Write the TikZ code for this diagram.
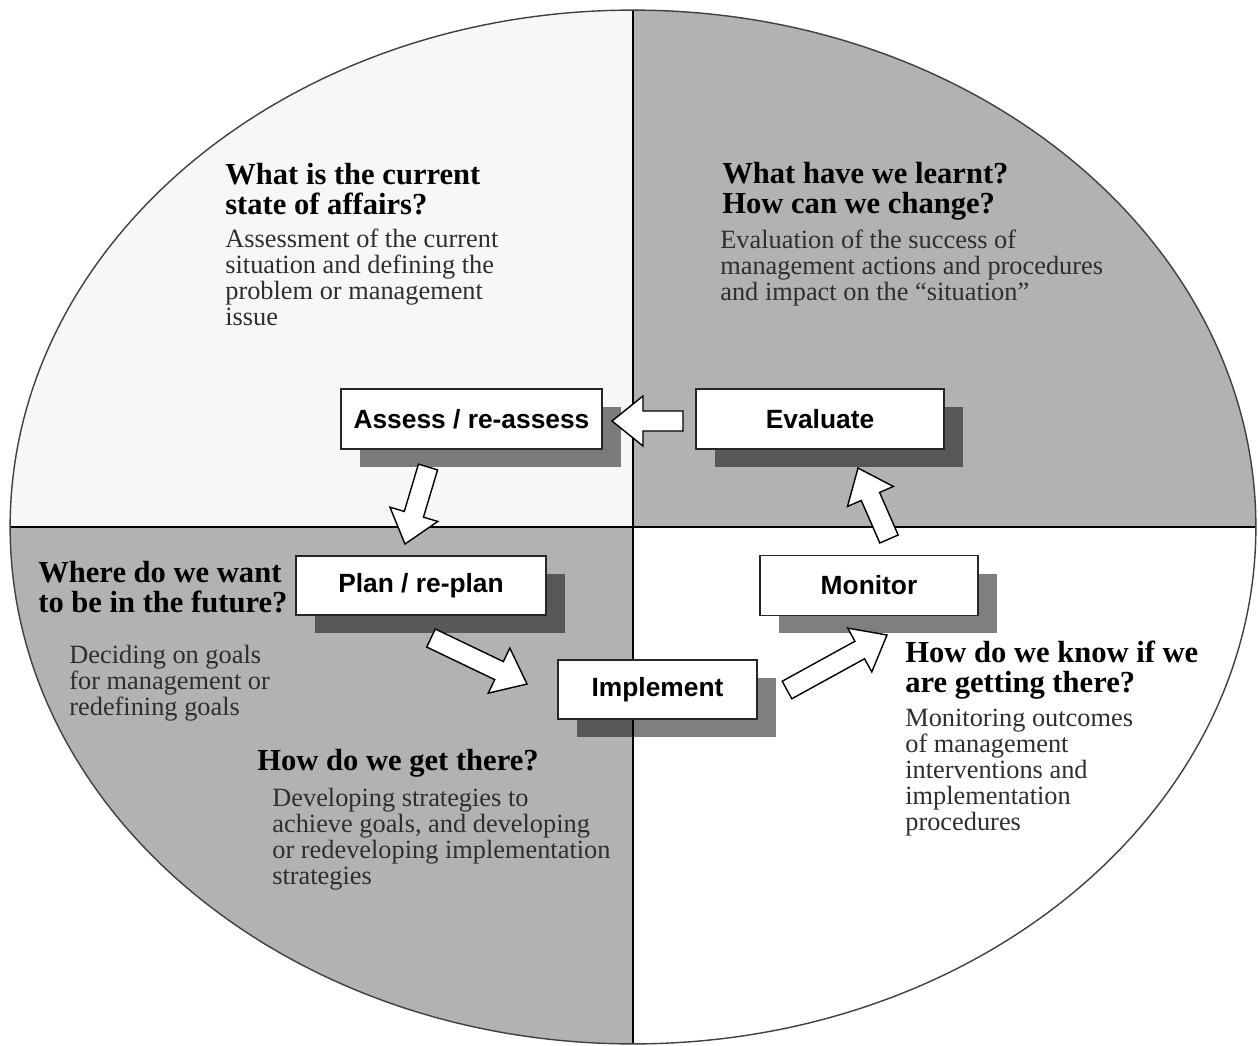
\documentclass[tikz,border=0pt]{standalone}
\usepackage{fontspec}
\setmainfont{Liberation Serif}
\newfontfamily\boxfont{Liberation Sans}
\usetikzlibrary{calc,shadows}
\definecolor{lightq}{HTML}{F7F7F7}
\definecolor{darkq}{HTML}{B2B2B2}
\newcommand{\blockarr}[2]{%
  \draw[blockarrow] let \p1=(#1), \p2=(#2), \n1={atan2(\y2-\y1,\x2-\x1)}, \n2={veclen(\x2-\x1,\y2-\y1)} in
   ($(\p1)+(\n1+90:0.2cm)$) -- ($(\p1)+(\n1:{\n2-0.62cm})+(\n1+90:0.2cm)$) -- ($(\p1)+(\n1:{\n2-0.62cm})+(\n1+90:0.5cm)$) -- (\p2) -- ($(\p1)+(\n1:{\n2-0.62cm})+(\n1-90:0.5cm)$) -- ($(\p1)+(\n1:{\n2-0.62cm})+(\n1-90:0.2cm)$) -- ($(\p1)+(\n1-90:0.2cm)$) -- cycle;}
\tikzset{
  blockarrow/.style={draw=black, line width=0.8pt, fill=white, line join=miter},
  stagebox/.style={draw=black!85, line width=0.7pt, fill=white, inner sep=0pt,
    font=\boxfont\bfseries\fontsize{15pt}{18pt}\selectfont,
    general shadow={fill=black, opacity=0.5, shadow xshift=0.38cm, shadow yshift=-0.36cm}},
  hdtxt/.style={anchor=base west, inner sep=0pt, text=black,
    font=\fontsize{17.4pt}{17.1pt}\selectfont\bfseries},
  bdtxt/.style={anchor=base west, inner sep=0pt, text=black!82,
    font=\fontsize{15pt}{14.9pt}\selectfont},
  divider/.style={draw=black, line width=0.6pt},
}
\begin{document}
\begin{tikzpicture}[x=0.02cm, y=-0.02cm]
\useasboundingbox[fill=white] (0,0) rectangle (1258,1045);
% quadrants
\begin{scope}
\clip (633,527) ellipse [x radius=12.46cm, y radius=10.34cm];
\fill[lightq] (0,0) rectangle (633,527);
\fill[darkq] (633,0) rectangle (1258,527);
\fill[darkq] (0,527) rectangle (633,1045);
\fill[white] (633,527) rectangle (1258,1045);
\end{scope}
\coordinate (top) at (633,10);
\coordinate (bot) at (633,1044);
\coordinate (lft) at (10,527);
\coordinate (rgt) at (1256,527);
\draw[divider] (top) -- (bot);
\draw[divider] (lft) -- (rgt);
\draw[draw=black!75, line width=0.8pt] (633,527) ellipse [x radius=12.46cm, y radius=10.34cm];

% texts
\node[hdtxt] (h1) at (225,184) {\parbox[t]{8cm}{What is the current\\state of affairs?}};
\node[bdtxt] (b1) at (225,247) {\parbox[t]{8cm}{Assessment of the current\\situation and defining the\\problem or management\\issue}};
\node[hdtxt] (h2) at (722,183) {\parbox[t]{8cm}{What have we learnt?\\How can we change?}};
\node[bdtxt] (b2) at (720,248) {\parbox[t]{9cm}{Evaluation of the success of\\management actions and procedures\\and impact on the “situation”}};
\node[hdtxt] (h3) at (38,582) {\parbox[t]{8cm}{Where do we want\\to be in the future?}};
\node[bdtxt] (b3) at (69,663) {\parbox[t]{8cm}{Deciding on goals\\for management or\\redefining goals}};
\node[hdtxt] (h4) at (257,770) {\parbox[t]{8cm}{How do we get there?}};
\node[bdtxt] (b4) at (272,806) {\parbox[t]{9cm}{Developing strategies to\\achieve goals, and developing\\or redeveloping implementation\\strategies}};
\node[hdtxt] (h5) at (905,662) {\parbox[t]{8cm}{How do we know if we\\are getting there?}};
\node[bdtxt] (b5) at (905,726) {\parbox[t]{8cm}{Monitoring outcomes\\of management\\interventions and\\implementation\\procedures}};

% boxes
\node[stagebox, minimum width=5.22cm, minimum height=1.2cm] (as) at (471.5,419) {Assess / re-assess};
\node[stagebox, minimum width=4.96cm, minimum height=1.2cm] (ev) at (820,419) {Evaluate};
\node[stagebox, minimum width=5.0cm, minimum height=1.18cm] (pl) at (421,585.5) {Plan / re-plan};
\node[stagebox, minimum width=4.36cm, minimum height=1.2cm] (mo) at (869,585.5) {Monitor};
\node[stagebox, minimum width=3.98cm, minimum height=1.18cm] (im) at (657.5,689.5) {Implement};

% arrows
\coordinate (e2a-s) at (683,421);
\coordinate (e2a-e) at (612,421);
\coordinate (a2p-s) at (428,467);
\coordinate (a2p-e) at (405,544);
\coordinate (p2i-s) at (431,638);
\coordinate (p2i-e) at (527,684);
\coordinate (i2m-s) at (787,690);
\coordinate (i2m-e) at (887,635);
\coordinate (m2e-s) at (889,539);
\coordinate (m2e-e) at (858,468);
\blockarr{e2a-s}{e2a-e}
\blockarr{a2p-s}{a2p-e}
\blockarr{p2i-s}{p2i-e}
\blockarr{i2m-s}{i2m-e}
\blockarr{m2e-s}{m2e-e}
\end{tikzpicture}
\end{document}
